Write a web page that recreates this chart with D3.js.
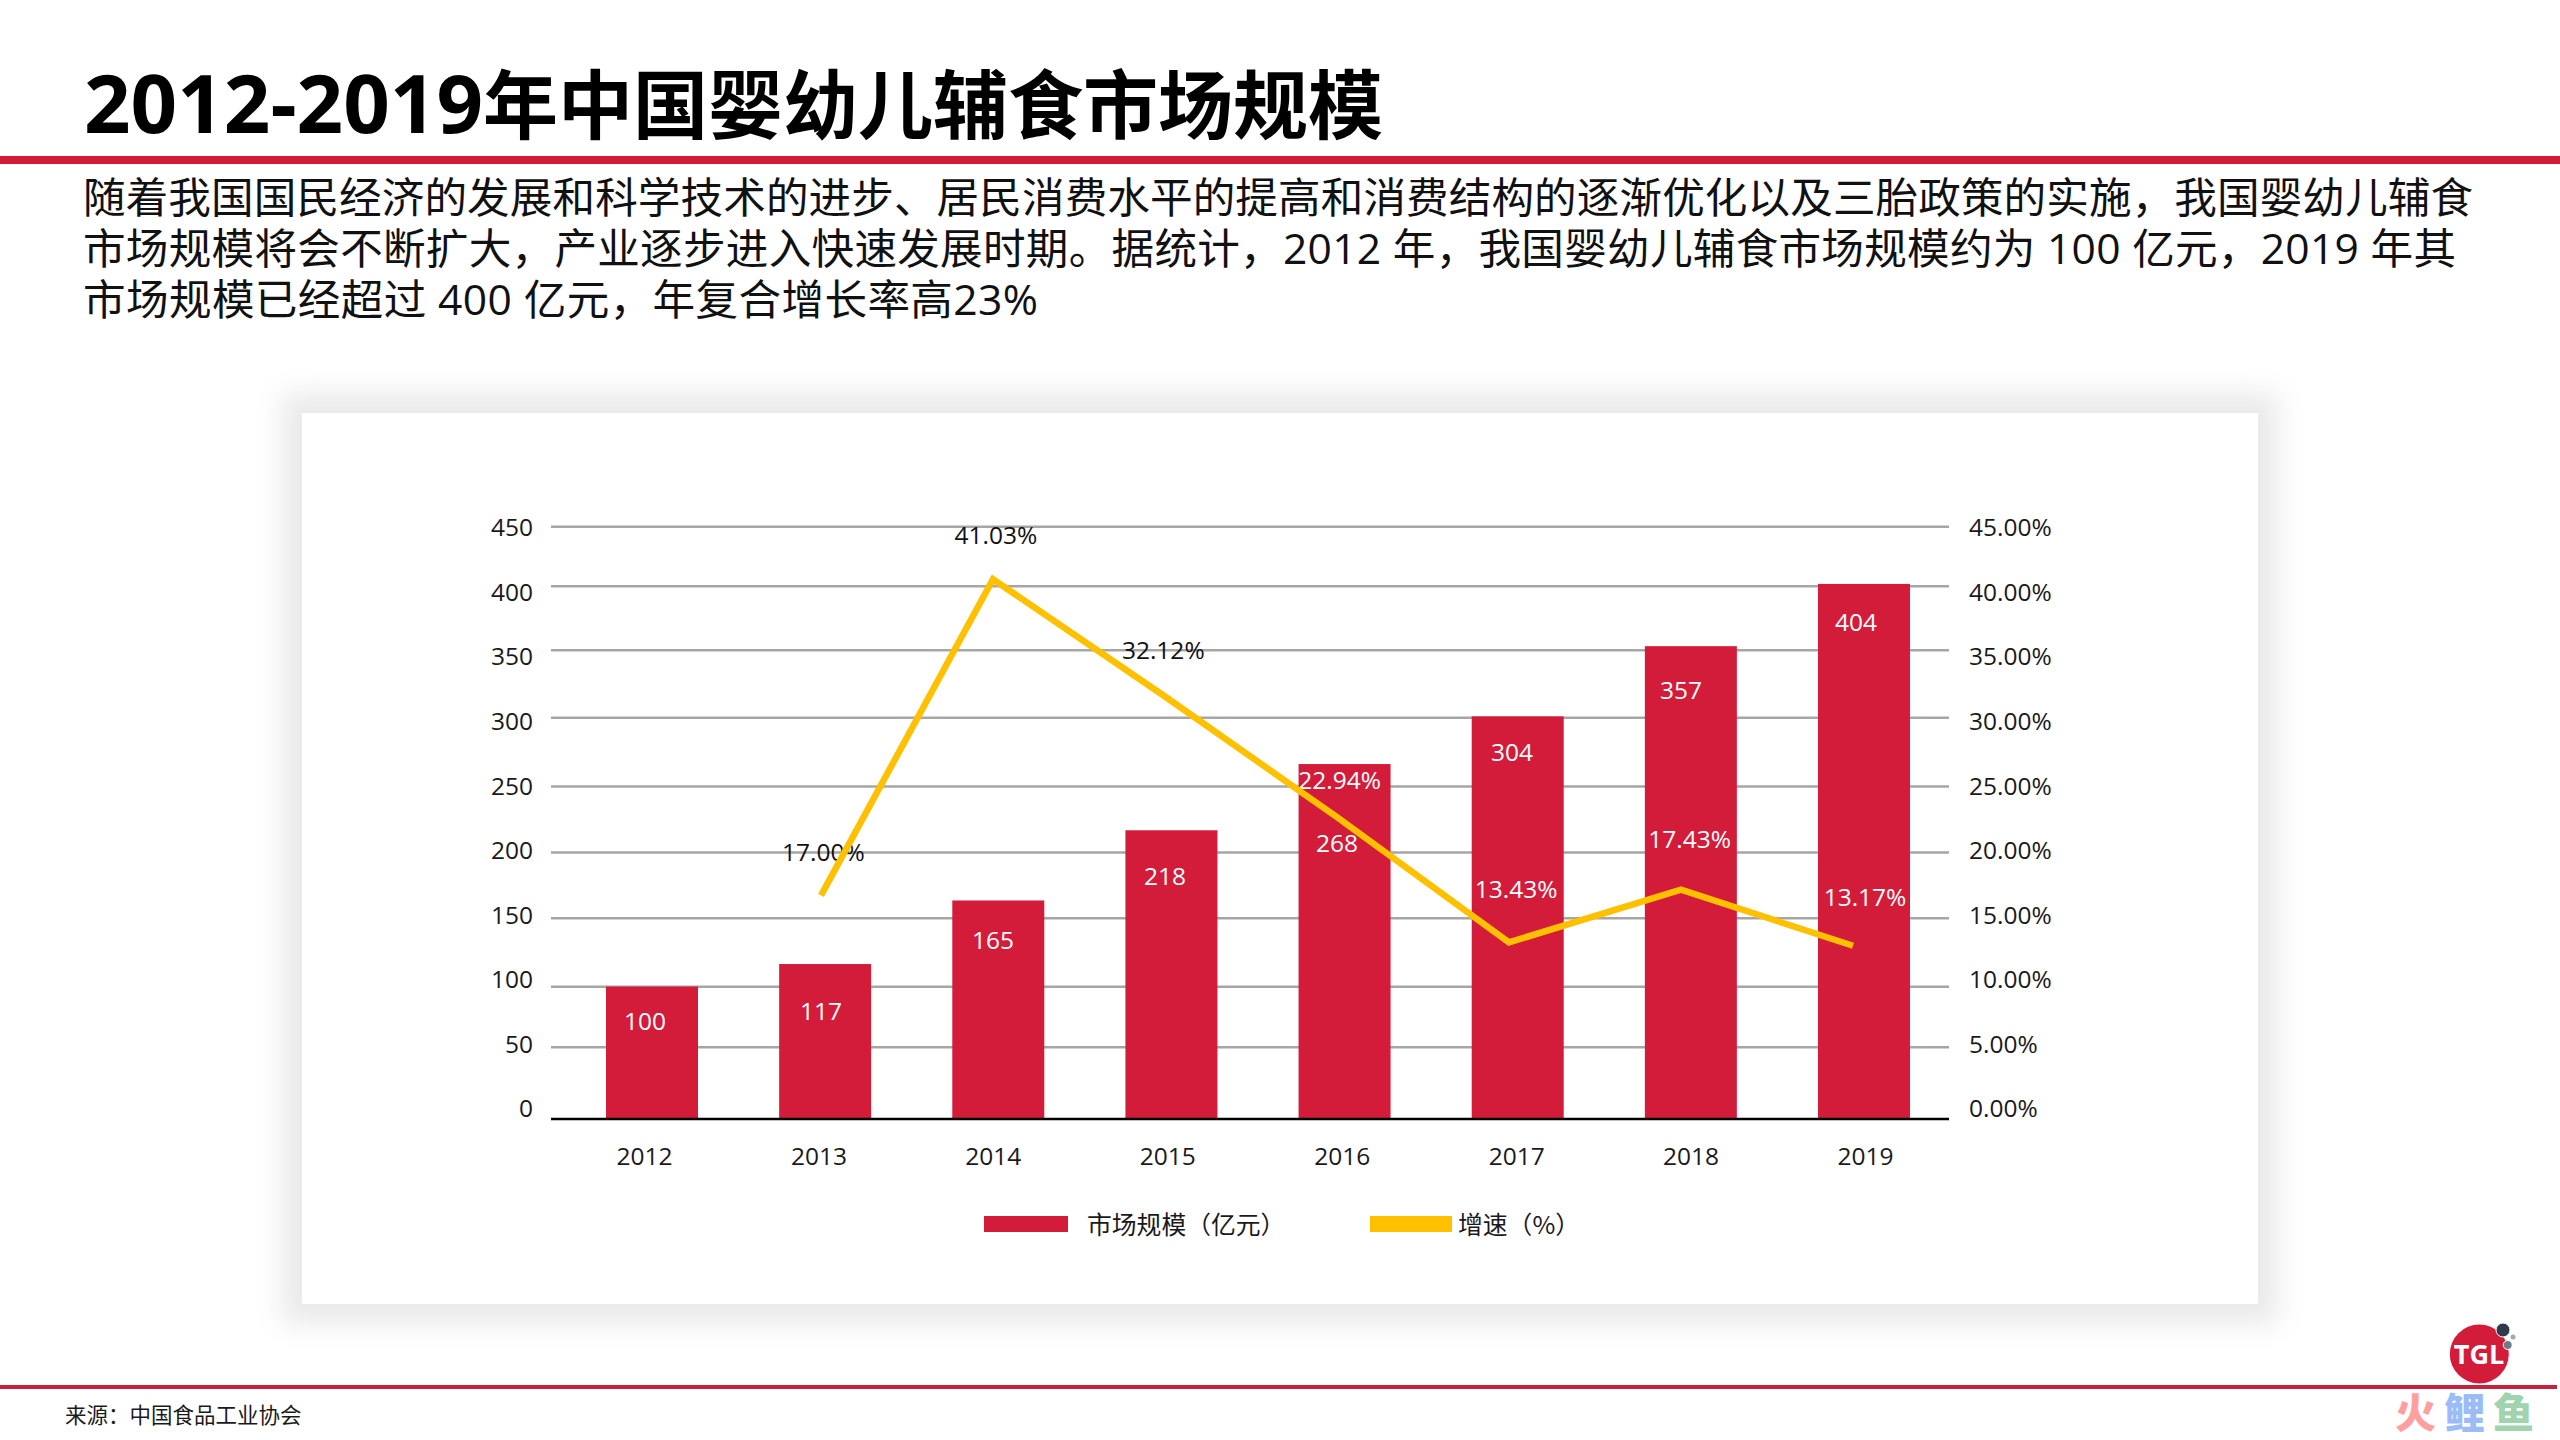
<!DOCTYPE html>
<html lang="zh-CN">

<head>
    <meta charset="UTF-8">
    <title>2012-2019年中国婴幼儿辅食市场规模</title>
    <script src="https://d3js.org/d3.v7.min.js"></script>
    <style>
        body {
            margin: 0;
            background-color: #fff;
        }

        svg {
            display: block;
            font-family: "Open Sans", "Noto Sans CJK SC", sans-serif;
        }

        .axis {
            font-family: "Open Sans", sans-serif;
        }

        .axis text {
            font-size: 24.5px;
            fill: #1a1a1a;
        }

        .axis path,
        .axis line {
            stroke: none;
        }

        .grid path {
            display: none;
        }

        .grid line {
            stroke: #a6a6a6;
            stroke-width: 2.5;
        }

        .grid text {
            display: none;
        }
    </style>
</head>

<body>
    <svg width="2560" height="1440"></svg>
    <script>
        var years = ["2012", "2013", "2014", "2015", "2016", "2017", "2018", "2019"];
        var marketSize = [100, 117, 165, 218, 268, 304, 357, 404];
        var growthRate = [null, 17.00, 41.03, 32.12, 22.94, 13.43, 17.43, 13.17];
        var leftTicks = [0, 50, 100, 150, 200, 250, 300, 350, 400, 450];
        var rightTicks = [0, 5, 10, 15, 20, 25, 30, 35, 40, 45];
        var seriesNames = ["市场规模（亿元）", "增速（%）"];

        var bodyLines = [
            "随着我国国民经济的发展和科学技术的进步、居民消费水平的提高和消费结构的逐渐优化以及三胎政策的实施，我国婴幼儿辅食",
            "市场规模将会不断扩大，产业逐步进入快速发展时期。据统计，2012 年，我国婴幼儿辅食市场规模约为 100 亿元，2019 年其",
            "市场规模已经超过 400 亿元，年复合增长率高23%"
        ];
        var bodyLineWidths = [2390, 2373, 955];

        // labels were hand placed in the original, so these are nudges from the mark
        var barLabelDx = [-4, 0, 0, 0, 0, 3, 0, 3];
        var barLabelDy = [35, 47, 40, 46, 79, 36, 44, 39];
        var lineLabelDx = [0, 5, 3, -4, -2, 0, -1, 0];
        var lineLabelDy = [0, -43, -44, -46, -37, -53, -50, -48];

        var red = "#d31c3a";
        var yellow = "#ffc000";

        var svg = d3.select("svg");

        // page furniture
        svg.append("text").attr("x", 84).attr("y", 133)
            .style("font-weight", 700).style("fill", "#000")
            .call(function (t) {
                t.append("tspan").style("font-size", "81.5px").text("2012-2019");
                t.append("tspan").style("font-family", "'Noto Sans CJK SC'").style("font-size", "75px").text("年中国婴幼儿辅食市场规模");
            });

        svg.append("rect").attr("x", 0).attr("y", 156).attr("width", 2560).attr("height", 8).attr("fill", "#d11c36");

        svg.selectAll(".body-line")
            .data(bodyLines)
            .enter().append("text")
            .attr("class", "body-line")
            .attr("x", 83)
            .attr("y", function (d, i) { return 213 + i * 51; })
            .attr("textLength", function (d, i) { return bodyLineWidths[i]; })
            .style("font-size", "42.6px")
            .style("fill", "#111")
            .text(function (d) { return d; });

        // chart panel with its soft shadow
        var defs = svg.append("defs");
        defs.append("filter").attr("id", "panel-shadow")
            .attr("x", "-10%").attr("y", "-15%").attr("width", "120%").attr("height", "130%")
            .append("feGaussianBlur").attr("stdDeviation", 14);

        svg.append("rect").attr("x", 282).attr("y", 393).attr("width", 1996).attr("height", 931)
            .attr("fill", "#e9e9e9").attr("filter", "url(#panel-shadow)");
        svg.append("rect").attr("x", 302).attr("y", 413).attr("width", 1956).attr("height", 891).attr("fill", "#fff");

        var plotLeft = 551, plotRight = 1949, plotBottom = 1119;

        var yBar = d3.scaleLinear().domain([0, 450]).range([plotBottom, 523]);
        var yLine = d3.scaleLinear().domain([0, 45]).range([plotBottom, 527]);

        // the original's rules and tick text are not quite on the value scale
        var yGrid = d3.scaleLinear().domain(leftTicks)
            .range([1119, 1046.8, 986.2, 917.8, 851.9, 786, 717.2, 649.8, 585.8, 526.2]);
        var yTickLeft = d3.scaleLinear().domain([0, 450]).range([1109, 528]);
        var yTickRight = d3.scaleLinear().domain([0, 45]).range([1109, 528]);

        var xBar = d3.scalePoint().domain(years).range([652, 1864]);
        var xLine = d3.scalePoint().domain(years).range([649, 1853]);
        var xLabel = d3.scalePoint().domain(years).range([644, 1865]);
        var barWidth = 92;

        svg.append("g")
            .attr("class", "grid")
            .attr("transform", "translate(" + plotLeft + ",0)")
            .call(d3.axisLeft(yGrid).tickValues(leftTicks.slice(1)).tickSize(plotLeft - plotRight));

        svg.append("g")
            .attr("class", "axis")
            .attr("transform", "translate(" + 547 + ",0)")
            .call(d3.axisLeft(yTickLeft).tickValues(leftTicks).tickSize(0).tickPadding(14));

        svg.append("g")
            .attr("class", "axis")
            .attr("transform", "translate(" + 1955 + ",0)")
            .call(d3.axisRight(yTickRight).tickValues(rightTicks).tickSize(0).tickPadding(14)
                .tickFormat(function (d) { return d3.format(".2f")(d) + "%"; }));

        svg.selectAll(".bar")
            .data(marketSize)
            .enter().append("rect")
            .attr("class", "bar")
            .attr("x", function (d, i) { return xBar(years[i]) - barWidth / 2; })
            .attr("y", function (d) { return yBar(d); })
            .attr("width", barWidth)
            .attr("height", function (d) { return plotBottom - yBar(d); })
            .attr("fill", red);

        svg.append("line")
            .attr("x1", plotLeft).attr("x2", plotRight)
            .attr("y1", plotBottom).attr("y2", plotBottom)
            .attr("stroke", "#000").attr("stroke-width", 2.5);

        svg.append("g")
            .attr("class", "axis")
            .attr("transform", "translate(0," + plotBottom + ")")
            .call(d3.axisBottom(xLabel).tickSize(0).tickPadding(29));

        svg.selectAll(".bar-label")
            .data(marketSize)
            .enter().append("text")
            .attr("class", "bar-label")
            .attr("x", function (d, i) { return xLine(years[i]) + barLabelDx[i]; })
            .attr("y", function (d, i) { return yBar(d) + barLabelDy[i]; })
            .attr("dy", "0.35em")
            .attr("text-anchor", "middle")
            .style("font-size", "24.5px")
            .style("fill", "#fff")
            .text(function (d) { return d; });

        svg.selectAll(".line-label")
            .data(growthRate)
            .enter().filter(function (d) { return d !== null; }).append("text")
            .attr("class", "line-label")
            .attr("x", function (d) { var i = growthRate.indexOf(d); return xLabel(years[i]) + lineLabelDx[i]; })
            .attr("y", function (d) { return yLine(d) + lineLabelDy[growthRate.indexOf(d)]; })
            .attr("dy", "0.35em")
            .attr("text-anchor", "middle")
            .style("font-size", "24.5px")
            .style("fill", function (d) { return growthRate.indexOf(d) < 4 ? "#111" : "#fff"; })
            .text(function (d) { return d3.format(".2f")(d) + "%"; });

        var line = d3.line()
            .defined(function (d) { return d !== null; })
            .x(function (d, i) { return xLine(years[i]); })
            .y(function (d) { return yLine(d); });

        svg.append("path")
            .attr("d", line(growthRate))
            .attr("fill", "none")
            .attr("stroke", yellow)
            .attr("stroke-width", 6.5);

        // legend
        svg.append("rect").attr("x", 984).attr("y", 1216).attr("width", 84).attr("height", 16).attr("fill", red);
        svg.append("rect").attr("x", 1370).attr("y", 1216).attr("width", 82).attr("height", 16).attr("fill", yellow);

        svg.append("text").attr("x", 1087).attr("y", 1225).attr("dy", "0.35em")
            .style("font-family", "'Noto Sans CJK SC'").style("font-size", "24.8px").style("fill", "#1a1a1a")
            .text(seriesNames[0]);
        svg.append("text").attr("x", 1458).attr("y", 1225).attr("dy", "0.35em")
            .style("font-family", "'Noto Sans CJK SC'").style("font-size", "24.8px").style("fill", "#1a1a1a")
            .text(seriesNames[1]);

        // footer
        svg.append("rect").attr("x", 0).attr("y", 1385).attr("width", 2557).attr("height", 4).attr("fill", "#c4233f");
        svg.append("text").attr("x", 65).attr("y", 1415).attr("dy", "0.35em")
            .style("font-family", "'Noto Sans CJK SC'").style("font-size", "21.5px").style("fill", "#1a1a1a")
            .text("来源：中国食品工业协会");

        // logo
        var logo = svg.append("g");
        logo.append("circle").attr("cx", 2479.3).attr("cy", 1354).attr("r", 29.5).attr("fill", "#d31c3a");
        logo.append("circle").attr("cx", 2503).attr("cy", 1330).attr("r", 7).attr("fill", "#2f3a4a").attr("stroke", "#fff").attr("stroke-width", 1);
        logo.append("circle").attr("cx", 2513).attr("cy", 1337).attr("r", 2.5).attr("fill", "#a0a8b8");
        logo.append("circle").attr("cx", 2507.7).attr("cy", 1345).attr("r", 4.5).attr("fill", "#6f7a8a").attr("stroke", "#fff").attr("stroke-width", 1);
        logo.append("text").attr("x", 2479).attr("y", 1354).attr("dy", "0.36em").attr("text-anchor", "middle")
            .style("font-size", "27px").style("font-weight", 700).style("fill", "#fff").text("TGL");

        // watermark
        svg.selectAll(".mark")
            .data([["火", "#ff9f9f"], ["鲤", "#9bbcf7"], ["鱼", "#9fd4ae"]])
            .enter().append("text")
            .attr("class", "mark")
            .attr("x", function (d, i) { return 2395 + i * 49; })
            .attr("y", 1428)
            .style("font-family", "'Noto Sans CJK SC'")
            .style("font-size", "41px")
            .style("font-weight", 900)
            .style("fill", function (d) { return d[1]; })
            .text(function (d) { return d[0]; });
    </script>
</body>

</html>
